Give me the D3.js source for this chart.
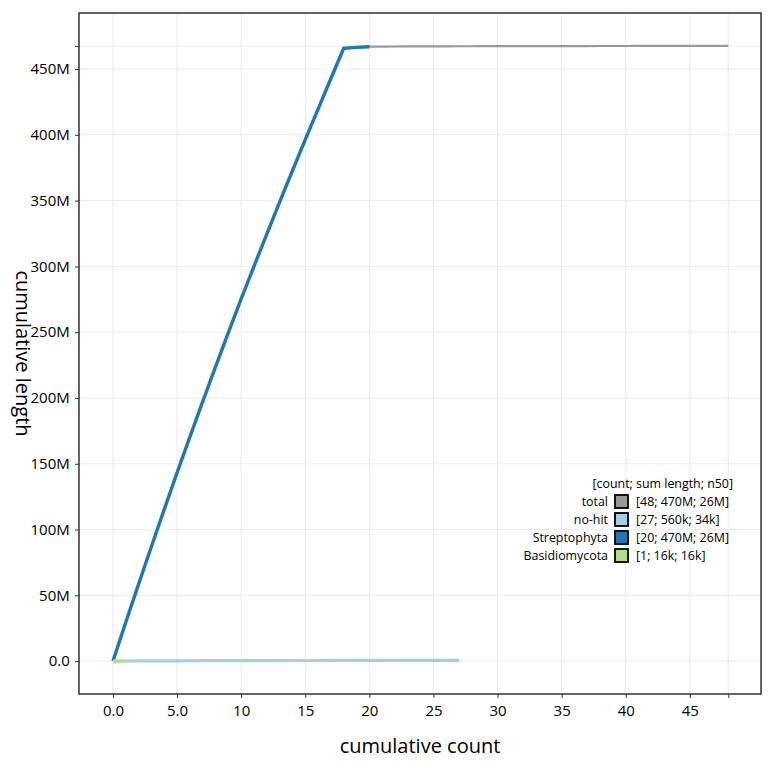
<!DOCTYPE html>
<html>
<head>
<meta charset="utf-8">
<script src="https://cdn.jsdelivr.net/npm/d3@7"></script>
<style>
  body { margin: 0; background: #fff; }
  svg { font-family: "Open Sans", "DejaVu Sans", sans-serif; }
</style>
</head>
<body>
<div id="chart"></div>
<script>
var width = 775;
var height = 766;

// scaffold lengths (bp), longest first, per group
var streptophyta = [29.5e6, 29.0e6, 28.6e6, 28.2e6, 27.9e6, 27.2e6, 26.8e6, 26.4e6, 26.0e6, 25.7e6,
                    24.8e6, 24.5e6, 24.2e6, 23.9e6, 23.6e6, 23.3e6, 23.2e6, 23.0e6, 0.7e6, 0.5e6];
var nohit = [64e3, 55e3, 48e3, 43e3, 38e3, 34e3, 30e3, 27e3, 24e3, 22e3, 20e3, 18e3, 16e3, 15e3,
             14e3, 13e3, 12e3, 11e3, 10e3, 9e3, 8e3, 7e3, 6e3, 5e3, 4e3, 4e3, 3e3];
var basidiomycota = [16e3];

var groupNames = ["total", "no-hit", "Streptophyta", "Basidiomycota"];
var groupColors = ["#999999", "#a6cee3", "#1f78b4", "#b2df8a"];
var groupStats = ["[48; 470M; 26M]", "[27; 560k; 34k]", "[20; 470M; 26M]", "[1; 16k; 16k]"];
var xTicks = [0, 5, 10, 15, 20, 25, 30, 35, 40, 45];
var yTicks = [0, 50e6, 100e6, 150e6, 200e6, 250e6, 300e6, 350e6, 400e6, 450e6];

var total = streptophyta.concat(nohit, basidiomycota).sort(function(a, b) { return b - a; });

function cumulative(arr) {
  var c = Array.from(d3.cumsum(arr));
  return [{x: 0, y: 0}].concat(c.map(function(v, i) { return {x: i + 1, y: v}; }));
}

var series = [
  {name: "total", pts: cumulative(total), w: 2.2},
  {name: "no-hit", pts: cumulative(nohit), w: 3.2},
  {name: "Streptophyta", pts: cumulative(streptophyta), w: 3.4},
  {name: "Basidiomycota", pts: cumulative(basidiomycota), w: 3.2}
];

var xMax = total.length;
var yMax = d3.sum(total);

var pLeft = 79, pRight = 761, pTop = 13, pBottom = 694;

var x = d3.scaleLinear().domain([-2.65, 50.55]).range([pLeft, pRight]);
var y = d3.scaleLinear().domain([-25e6, 492.6e6]).range([pBottom, pTop]);

var svg = d3.select("#chart").append("svg")
    .attr("width", width)
    .attr("height", height);

// grid
var gx = xTicks.concat([xMax]);
var gy = yTicks.concat([yMax]);
svg.append("g").selectAll("line").data(gx).enter().append("line")
    .attr("x1", function(d) { return x(d); }).attr("x2", function(d) { return x(d); })
    .attr("y1", pTop).attr("y2", pBottom)
    .attr("stroke", "#ebebeb").attr("stroke-width", 1);
svg.append("g").selectAll("line").data(gy).enter().append("line")
    .attr("y1", function(d) { return y(d); }).attr("y2", function(d) { return y(d); })
    .attr("x1", pLeft).attr("x2", pRight)
    .attr("stroke", "#ebebeb").attr("stroke-width", 1);

// lines
var line = d3.line()
    .x(function(d) { return x(d.x); })
    .y(function(d) { return y(d.y); });

series.forEach(function(s, i) {
  svg.append("path")
      .datum(s.pts)
      .attr("d", line)
      .attr("fill", "none")
      .attr("stroke", groupColors[groupNames.indexOf(s.name)])
      .attr("stroke-width", s.w)
      .attr("stroke-linejoin", "round");
});

// axes
var xAxis = d3.axisBottom(x)
    .tickValues(xTicks.concat([xMax]))
    .tickSize(4)
    .tickFormat(function(d) { return d === xMax ? "" : (d < 10 ? d3.format(".1f")(d) : d); });
var gxa = svg.append("g").attr("transform", "translate(0," + pBottom + ")").call(xAxis);

var yAxis = d3.axisLeft(y)
    .tickValues(yTicks.concat([yMax]))
    .tickSize(4)
    .tickFormat(function(d) { return d === yMax ? "" : (d === 0 ? "0.0" : (d / 1e6) + "M"); });
var gya = svg.append("g").attr("transform", "translate(" + pLeft + ",0)").call(yAxis);

[gxa, gya].forEach(function(g) {
  g.select(".domain").remove();
  g.selectAll(".tick line").attr("stroke", "#333").attr("stroke-width", 1);
  g.selectAll(".tick text").attr("fill", "#000")
      .style("font-family", "'Open Sans', sans-serif").style("font-size", "15px");
});
gxa.selectAll(".tick text").attr("dy", "1.0em");
gya.selectAll(".tick text").attr("dx", "-0.15em");

// frame
svg.append("rect")
    .attr("x", pLeft).attr("y", pTop)
    .attr("width", pRight - pLeft).attr("height", pBottom - pTop)
    .attr("fill", "none").attr("stroke", "#333").attr("stroke-width", 1.5);

// titles
svg.append("text")
    .attr("x", (pLeft + pRight) / 2).attr("y", 753)
    .attr("text-anchor", "middle")
    .style("font-size", "20px")
    .text("cumulative count");

svg.append("text")
    .attr("transform", "translate(16," + ((pTop + pBottom) / 2) + ") rotate(90)")
    .attr("text-anchor", "middle")
    .style("font-size", "20px")
    .text("cumulative length");

// legend
var legend = svg.append("g").attr("transform", "translate(614,484)");
legend.append("text")
    .attr("x", 119).attr("y", 0)
    .attr("text-anchor", "end")
    .attr("dy", "0.35em")
    .style("font-size", "12.4px")
    .text("[count; sum length; n50]");

groupNames.forEach(function(name, i) {
  var row = legend.append("g").attr("transform", "translate(0," + (18 + i * 18) + ")");
  row.append("rect")
      .attr("x", 1).attr("y", -7)
      .attr("width", 13).attr("height", 13)
      .attr("fill", groupColors[i])
      .attr("stroke", "#000").attr("stroke-width", 1.8);
  row.append("text")
      .attr("x", -6).attr("y", 0).attr("dy", "0.35em")
      .attr("text-anchor", "end")
      .style("font-size", "12.4px")
      .text(name);
  row.append("text")
      .attr("x", 22).attr("y", 0).attr("dy", "0.35em")
      .style("font-size", "12.4px")
      .text(groupStats[i]);
});
</script>
</body>
</html>
